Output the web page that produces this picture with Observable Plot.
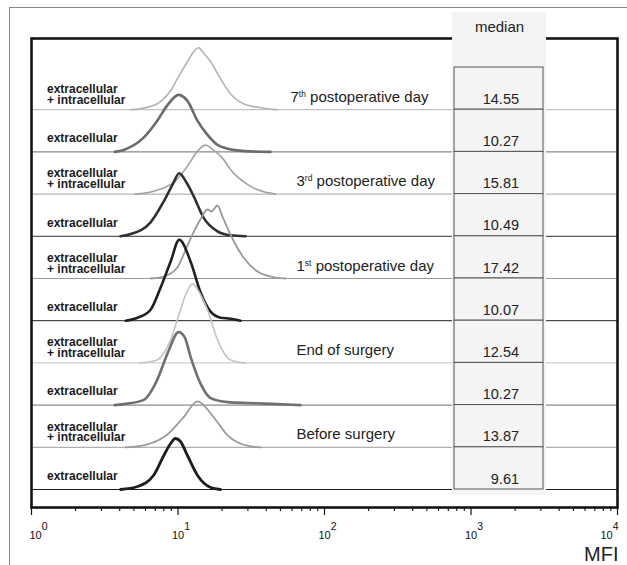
<!DOCTYPE html>
<html>
<head>
<meta charset="utf-8">
<script src="https://cdn.jsdelivr.net/npm/d3@7"></script>
<script src="https://cdn.jsdelivr.net/npm/@observablehq/plot@0.6"></script>
<style>
  body { margin: 0; background: #fff; }
  #wrap { position: relative; width: 627px; height: 565px; overflow: hidden; background: #fff; }
  #border { position: absolute; left: 9px; top: 7px; width: 700px; height: 700px;
            border-left: 1.5px solid #8a8a8a; border-top: 1.5px solid #8a8a8a; }
  #wrap svg { position: absolute; left: 0; top: 0; }
</style>
</head>
<body>
<div id="wrap"><div id="border"></div></div>
<script>
// ---- data (rows listed top to bottom) ----
const stains = [
  "extracellular\n+ intracellular", "extracellular",
  "extracellular\n+ intracellular", "extracellular",
  "extracellular\n+ intracellular", "extracellular",
  "extracellular\n+ intracellular", "extracellular",
  "extracellular\n+ intracellular", "extracellular"
];
const timepoints = ["7th postoperative day", "3rd postoperative day", "1st postoperative day", "End of surgery", "Before surgery"];
const medians = [14.55, 10.27, 15.81, 10.49, 17.42, 10.07, 12.54, 10.27, 13.87, 9.61];
const medianHeader = "median";
const xLabel = "MFI";
const decades = [1, 10, 100, 1000, 10000];

// histograms: [MFI, relative count]
const h7thTotal = [[4.7,0],[6.0,2],[7.6,8],[8.9,19],[9.9,31],[11.6,48],[12.8,58],[13.8,62],[14.9,57],[16.7,48],[19.5,31],[22.8,16],[28.0,6],[36.6,2],[47.8,0]];
const h7thExt   = [[3.7,0],[4.25,2],[5.8,14],[7.2,31],[8.5,47],[10.1,57],[10.9,55],[11.6,51],[13.6,31],[15.9,17],[18.6,7],[23.9,2],[31.2,0.5],[42.8,0]];
const h3rdTotal = [[5.1,0],[6.0,1],[7.6,5],[9.6,13],[11.6,28],[13.6,43],[15.4,49],[17.5,44],[20.1,36],[23.6,22],[28.9,11],[35.4,4],[46.3,0]];
const h3rdExt   = [[4.05,0],[4.7,2],[6.5,14],[8.0,35],[9.2,52],[10.2,63],[11.4,54],[12.8,40],[14.9,19],[18.6,5],[22.8,1],[28.9,0]];
const h1stTotal = [[6.5,0],[8.0,2],[9.9,11],[11.6,33],[14.2,59],[15.9,69],[16.9,67],[18.6,73],[20.1,62],[22.8,44],[28.0,21],[34.9,7],[42.8,2],[54.2,0]];
const h1stExt   = [[4.4,0],[5.3,3],[6.5,11],[7.6,33],[8.9,59],[10.2,81],[12.2,59],[14.2,29],[16.7,9],[19.5,3],[22.8,2],[26.7,0]];
const hEndTotal = [[5.5,0],[7.2,3],[8.9,23],[10.4,53],[11.4,70],[12.6,79],[13.8,72],[15.9,53],[18.6,23],[22.8,3],[28.9,0]];
const hEndExt   = [[3.7,0],[4.25,1],[5.8,5],[7.2,25],[8.5,52],[10.1,73],[11.1,68],[12.2,48],[14.2,22],[16.7,7],[21.8,3],[31.2,2],[47.8,1],[68.6,0]];
const hBeforeTotal = [[4.4,0],[6.2,3],[8.5,13],[10.9,30],[13.6,46],[16.7,34],[18.6,25],[21.8,12],[25.5,5],[31.2,1],[36.6,0]];
const hBeforeExt   = [[4.05,0],[5.3,3],[6.8,14],[8.0,34],[8.9,46],[9.6,51],[10.4,48],[11.6,34],[13.6,14],[16.7,2],[19.5,0]];
const histograms = [h7thTotal, h7thExt, h3rdTotal, h3rdExt, h1stTotal, h1stExt, hEndTotal, hEndExt, hBeforeTotal, hBeforeExt];

// ---- styles / layout ----
const colors = ["#b3b3b3", "#6b6b6b", "#a3a3a3", "#303030", "#999999", "#202020", "#c4c4c4", "#707070", "#9c9c9c", "#1c1c1c"];
const widths = [1.6, 2.6, 1.6, 2.6, 1.8, 2.6, 1.6, 2.6, 1.8, 2.8];
const step = 42.2;             // vertical offset between stacked histograms (count units)
const layout = {               // median table column, in MFI units
  colX1: 748, colX2: 3277, boxX1: 772, boxX2: 3125, valueX: 2127, headX: 1565,
  colY1: -6, colY2: 477, headY: 458
};

const n = stains.length;
const rows = stains.map((s, i) => ({
  i, stain: s, base: (n - 1 - i) * step, median: medians[i],
  total: i % 2 === 0, time: i % 2 === 0 ? timepoints[i / 2] : null
}));
const curveData = histograms.map((h, i) => h.map(([mfi, c]) => ({ i, mfi, y: rows[i].base + c })));
const minorTicks = decades.slice(0, -1).flatMap(d => d3.range(2, 10).map(k => k * d));

const marks = [];
marks.push(Plot.ruleY(rows, { y: "base", stroke: d => colors[d.i], strokeWidth: 1 }));
curveData.forEach((cd, i) => marks.push(
  Plot.line(cd, { x: "mfi", y: "y", stroke: colors[i], strokeWidth: widths[i], curve: "monotone-x" })
));
marks.push(Plot.frame({ stroke: "#151515", strokeWidth: 2.6 }));
marks.push(Plot.rect([0], { x1: layout.colX1, x2: layout.colX2, y1: layout.colY1, y2: layout.colY2, fill: "#f4f4f4" }));
marks.push(Plot.rect(rows, { x1: layout.boxX1, x2: layout.boxX2, y1: "base", y2: d => d.base + step, fill: "#f4f4f4", stroke: "#555", strokeWidth: 1 }));
marks.push(Plot.text(rows.filter(d => d.total), {
  y: d => d.base + 6, text: "stain", frameAnchor: "left", dx: 15.5, textAnchor: "start",
  lineAnchor: "bottom", lineHeight: 0.9, fontSize: 12, fontWeight: "bold", fill: "#1a1a1a"
}));
marks.push(Plot.text(rows.filter(d => !d.total), {
  y: d => d.base + 9.8, text: "stain", frameAnchor: "left", dx: 15.5, textAnchor: "start",
  lineAnchor: "bottom", fontSize: 12, fontWeight: "bold", fill: "#1a1a1a"
}));
marks.push(Plot.text(rows.filter(d => d.total && d.i === 0), {
  y: d => d.base + 8, text: "time", frameAnchor: "left", dx: 259, textAnchor: "start",
  lineAnchor: "bottom", fontSize: 15, fill: "#222"
}));
marks.push(Plot.text(rows.filter(d => d.total && d.i > 0), {
  y: d => d.base + 8, text: "time", frameAnchor: "left", dx: 265, textAnchor: "start",
  lineAnchor: "bottom", fontSize: 15, fill: "#222"
}));
marks.push(Plot.text(rows, {
  x: layout.valueX, y: d => d.base + 6, text: d => d.median.toFixed(2), textAnchor: "end",
  lineAnchor: "bottom", fontSize: 14.5, fill: "#222"
}));
marks.push(Plot.text([medianHeader], {
  x: layout.headX, y: layout.headY, text: d => d, lineAnchor: "bottom", fontSize: 15, fill: "#222"
}));
marks.push(Plot.text([xLabel], {
  frameAnchor: "bottom-right", text: d => d, dx: 1, dy: 53, textAnchor: "end",
  lineAnchor: "bottom", fontSize: 20, fill: "#222"
}));
marks.push(Plot.axisX({
  ticks: decades, tickSize: 8, tickPadding: 16, label: null, fontSize: 11,
  tickFormat: d => `10^${Math.round(Math.log10(d))}`, stroke: "#111", strokeWidth: 1.2, fill: "#111"
}));
marks.push(Plot.axisX({
  ticks: minorTicks, tickSize: 4, label: null, tickFormat: () => "", stroke: "#111", strokeWidth: 1.1
}));

const plot = Plot.plot({
  width: 627, height: 565,
  marginLeft: 31, marginRight: 10, marginTop: 38, marginBottom: 58,
  style: { fontFamily: "'Liberation Sans', Arial, Helvetica, sans-serif", background: "transparent" },
  x: { type: "log", domain: [1, 10000], label: null },
  y: { domain: [-18, 451], axis: null, label: null },
  color: { type: "identity" },
  marks
});

// superscripts
const NS = "http://www.w3.org/2000/svg";
function tspan(parent, txt, attrs = {}) {
  const t = document.createElementNS(NS, "tspan");
  for (const [k, v] of Object.entries(attrs)) t.setAttribute(k, v);
  t.textContent = txt;
  parent.appendChild(t);
}
plot.querySelectorAll("text").forEach(t => {
  if (t.querySelector("tspan")) return;
  const s = t.textContent;
  let m;
  if ((m = s.match(/^10\^(\d)$/))) {
    t.textContent = "";
    tspan(t, "10");
    tspan(t, m[1], { dy: "-9", "font-size": "10.5px" });
    if (m[1] === "0") { t.setAttribute("text-anchor", "start"); t.setAttribute("dx", "-2"); }
    else if (m[1] === "4") { t.setAttribute("text-anchor", "end"); t.setAttribute("dx", "1"); }
    else { t.setAttribute("dx", "3"); }
  } else if ((m = s.match(/^(\d)(st|nd|rd|th)( .+)$/))) {
    t.textContent = "";
    tspan(t, m[1]);
    tspan(t, m[2], { dy: "-5", "font-size": "8.5px" });
    tspan(t, m[3], { dy: "5" });
  }
});

document.getElementById("wrap").appendChild(plot);
</script>
</body>
</html>
